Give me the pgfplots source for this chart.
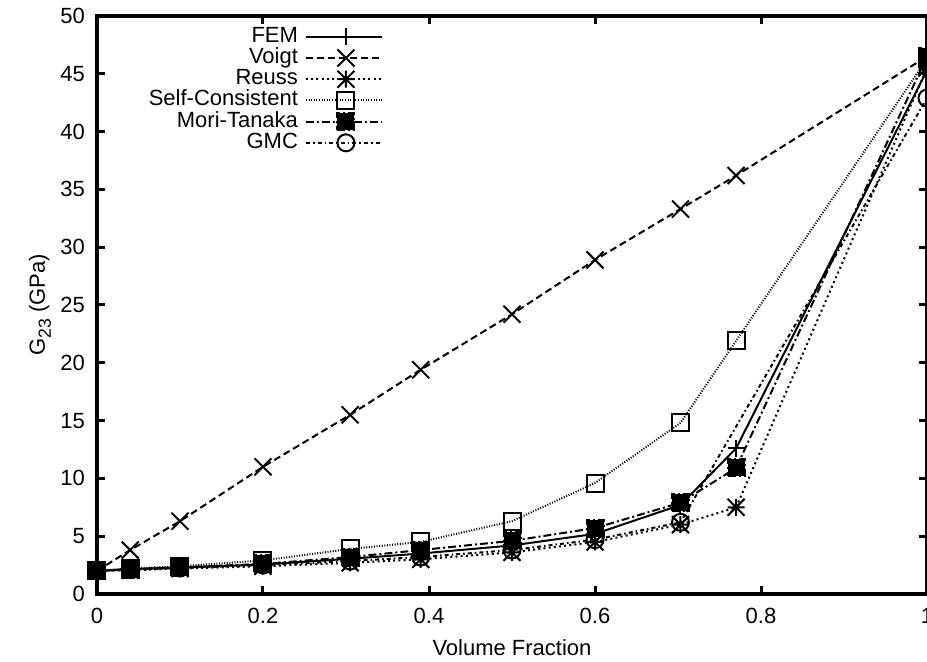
\documentclass[border=0pt]{standalone}
\usepackage{fontspec}
\setmainfont{Liberation Sans}
\usepackage{pgfplots}
\pgfplotsset{compat=1.18}

% gnuplot-style marks: full-size cross and eight-arm star
\pgfdeclareplotmark{gx}{%
  \pgfpathmoveto{\pgfqpoint{-\pgfplotmarksize}{-\pgfplotmarksize}}%
  \pgfpathlineto{\pgfqpoint{\pgfplotmarksize}{\pgfplotmarksize}}%
  \pgfpathmoveto{\pgfqpoint{-\pgfplotmarksize}{\pgfplotmarksize}}%
  \pgfpathlineto{\pgfqpoint{\pgfplotmarksize}{-\pgfplotmarksize}}%
  \pgfusepathqstroke}
\pgfdeclareplotmark{gstar}{%
  \pgfpathmoveto{\pgfqpoint{-\pgfplotmarksize}{-\pgfplotmarksize}}%
  \pgfpathlineto{\pgfqpoint{\pgfplotmarksize}{\pgfplotmarksize}}%
  \pgfpathmoveto{\pgfqpoint{-\pgfplotmarksize}{\pgfplotmarksize}}%
  \pgfpathlineto{\pgfqpoint{\pgfplotmarksize}{-\pgfplotmarksize}}%
  \pgfpathmoveto{\pgfqpoint{-\pgfplotmarksize}{0pt}}%
  \pgfpathlineto{\pgfqpoint{\pgfplotmarksize}{0pt}}%
  \pgfpathmoveto{\pgfqpoint{0pt}{-\pgfplotmarksize}}%
  \pgfpathlineto{\pgfqpoint{0pt}{\pgfplotmarksize}}%
  \pgfusepathqstroke}

\newcommand{\fs}{\fontsize{11}{13}\selectfont}

\begin{document}
\begin{tikzpicture}
\begin{axis}[
  at={(0,0)}, anchor=south west,
  scale only axis, width=415pt, height=289pt,
  xmin=0, xmax=1, ymin=0, ymax=50,
  xtick={0,0.2,0.4,0.6,0.8,1},
  xticklabels={0,0.2,0.4,0.6,0.8,1},
  ytick={0,5,...,50},
  tick align=inside, major tick length=4pt,
  axis line style={line width=2pt}, every tick/.style={black,line width=1.5pt},
  /pgf/number format/assume math mode=true,
  tick label style={font=\fs},
  xticklabel style={yshift=-3.5pt},
  yticklabel style={xshift=-2.5pt},
  every axis x label/.style={at={(axis description cs:0.5,0)}, yshift=-27pt, anchor=center, font=\fs},
  every axis y label/.style={at={(axis description cs:0,0.5)}, xshift=-28.5pt, rotate=90, anchor=center, font=\fs},
  xlabel={Volume Fraction},
  ylabel={G\raisebox{-0.28em}{\fontsize{8.8}{10}\selectfont 23} (GPa)},
  clip=false,
  legend plot pos=right, legend cell align=right,
  legend style={draw=none, fill=none, font=\fontsize{11}{11}\selectfont,
    at={(rel axis cs:0.345,0.983)}, anchor=north east,
    inner sep=0pt, row sep=0pt,
    nodes={inner sep=0pt, text height=8pt, text depth=2.6pt},
    /tikz/every odd column/.append style={column sep=3.5pt}},
  legend image code/.code={\draw[mark repeat=2, mark phase=2, #1] plot coordinates {(0pt,0pt) (20pt,0pt) (38pt,0pt)};},
  every axis plot/.append style={line width=1pt, black, mark size=4.25pt, mark options={solid, line width=1pt}},
]
% FEM
\addplot[solid, mark=+] coordinates {(0,2.0) (0.04,2.15) (0.1,2.3) (0.2,2.55) (0.305,3.05) (0.39,3.5) (0.5,4.2) (0.6,5.2) (0.703,7.7) (0.77,12.6) (1.0,45.3)};
% Voigt
\addplot[dash pattern=on 3.5pt off 2pt, mark=gx] coordinates {(0,2.0) (0.04,3.8) (0.1,6.3) (0.2,11.0) (0.305,15.5) (0.39,19.4) (0.5,24.2) (0.6,28.9) (0.703,33.3) (0.77,36.2) (1.0,46.5)};
% Reuss
\addplot[dash pattern=on 1pt off 1.6pt, mark=gstar] coordinates {(0,2.0) (0.04,2.05) (0.1,2.2) (0.2,2.4) (0.305,2.7) (0.39,3.0) (0.5,3.6) (0.6,4.5) (0.703,6.0) (0.77,7.5) (1.0,45.5)};
% Self-Consistent
\addplot[dash pattern=on 0.5pt off 0.8pt, mark=square] coordinates {(0,2.0) (0.04,2.2) (0.1,2.4) (0.2,2.9) (0.305,3.9) (0.39,4.5) (0.5,6.3) (0.6,9.6) (0.703,14.8) (0.77,21.9) (1.0,46.3)};
% Mori-Tanaka
\addplot[dash pattern=on 4pt off 1.5pt on 1pt off 1.5pt, mark=square*, mark options={fill=black}] coordinates {(0,2.0) (0.04,2.15) (0.1,2.3) (0.2,2.6) (0.305,3.2) (0.39,3.8) (0.5,4.6) (0.6,5.7) (0.703,7.9) (0.77,10.9) (1.0,46.5)};
% GMC
\addplot[dash pattern=on 2pt off 1.5pt on 0.8pt off 1.5pt, mark=o] coordinates {(0,2.0) (0.04,2.1) (0.1,2.25) (0.2,2.5) (0.305,2.85) (0.39,3.2) (0.5,3.8) (0.6,4.7) (0.703,6.2) (1.0,42.9)};
\legend{FEM, Voigt, Reuss, Self-Consistent, Mori-Tanaka, GMC}
\end{axis}
\pgfresetboundingbox
\useasboundingbox (-48.5pt,-34pt) rectangle (415pt,297pt);
\end{tikzpicture}
\end{document}
